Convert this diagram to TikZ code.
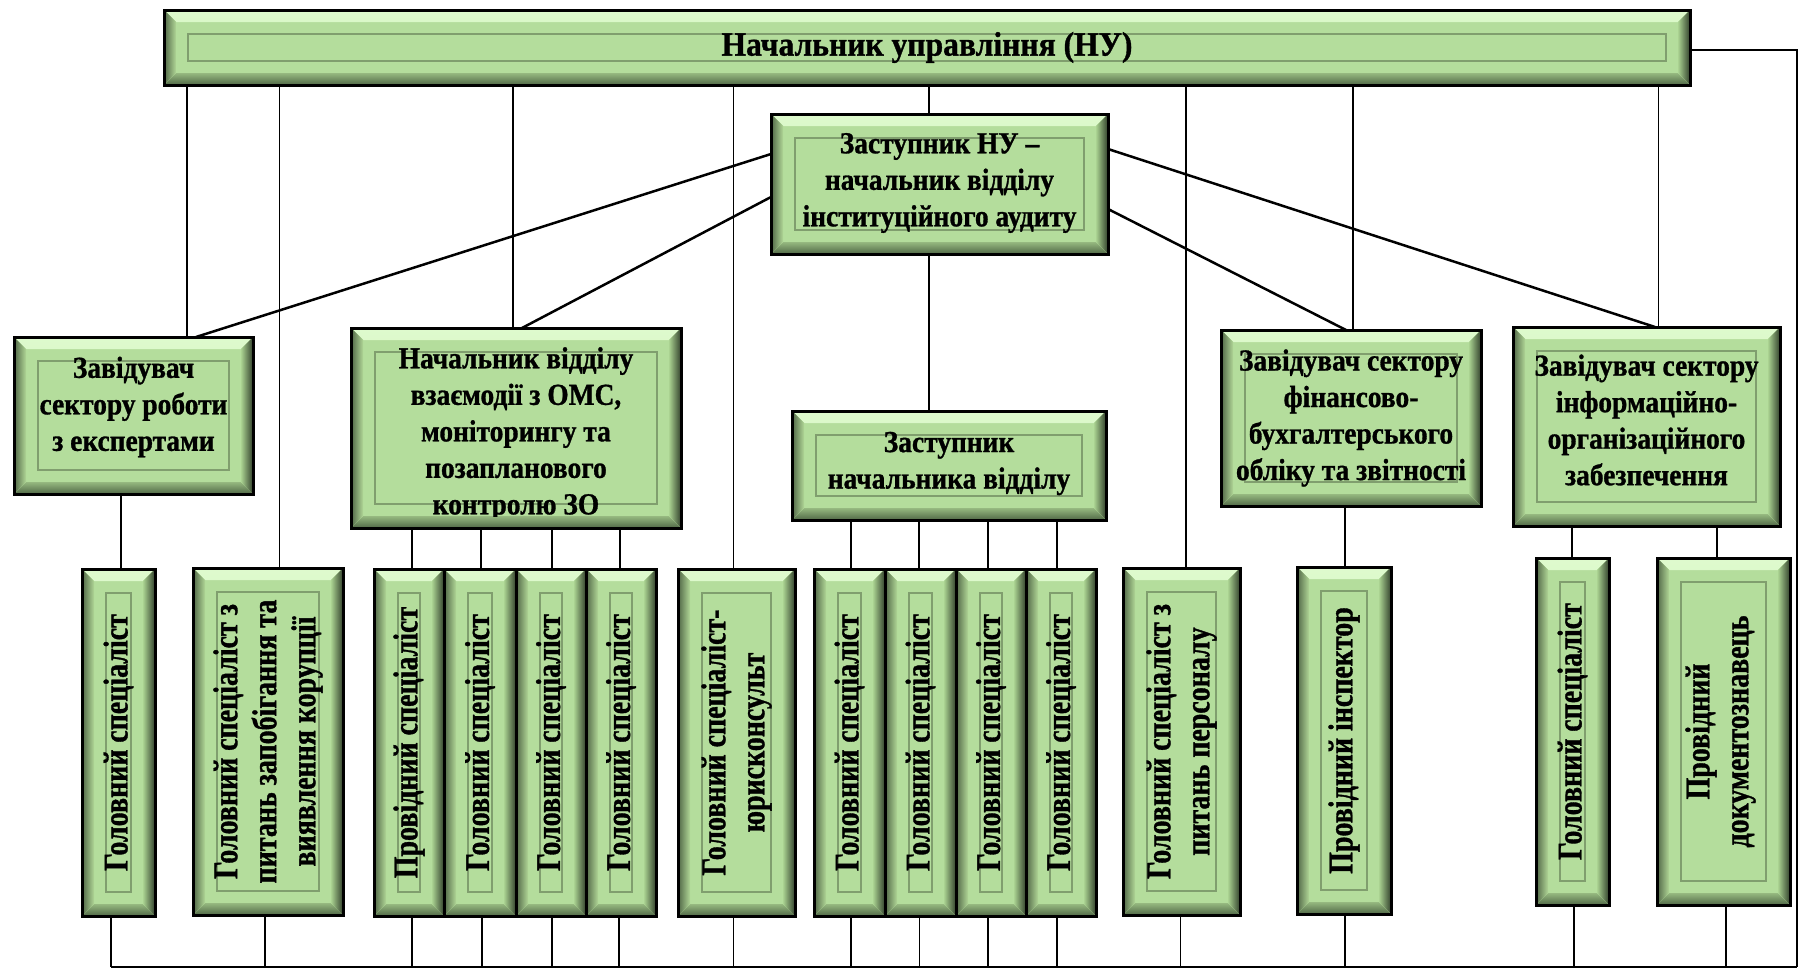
\documentclass[tikz,border=0pt]{standalone}
\usepackage{fontspec}
\setmainfont{Liberation Serif}
\newfontfamily\hfont[FakeStretch=0.9,FakeBold=1]{Liberation Serif}
\newfontfamily\tfont[FakeStretch=0.93,FakeBold=1]{Liberation Serif}
\newfontfamily\vfont[FakeStretch=0.81,FakeBold=1]{Liberation Serif}
\usetikzlibrary{calc}
\definecolor{gmain}{RGB}{180,221,156}
\definecolor{gTa}{RGB}{222,250,205}
\definecolor{gTb}{RGB}{196,234,172}
\definecolor{gBa}{RGB}{150,185,128}
\definecolor{gBb}{RGB}{80,104,70}
\definecolor{gLa}{RGB}{80,102,70}
\definecolor{gLb}{RGB}{176,214,150}
\definecolor{gRa}{RGB}{170,210,145}
\definecolor{gRb}{RGB}{50,64,44}
\definecolor{gIn}{RGB}{128,158,110}
\tikzset{
  bev/.style={rectangle, draw=black, line width=3pt, fill=gmain, inner sep=0pt, outer sep=0pt,
    path picture={
      \fill[top color=gTa, bottom color=gTb] (path picture bounding box.north west) -- (path picture bounding box.north east) -- ([shift={(-12pt,-12pt)}]path picture bounding box.north east) -- ([shift={(12pt,-12pt)}]path picture bounding box.north west) -- cycle;
      \fill[top color=gBa, bottom color=gBb] (path picture bounding box.south west) -- (path picture bounding box.south east) -- ([shift={(-12pt,12pt)}]path picture bounding box.south east) -- ([shift={(12pt,12pt)}]path picture bounding box.south west) -- cycle;
      \fill[left color=gLa, right color=gLb] (path picture bounding box.north west) -- ([shift={(12pt,-12pt)}]path picture bounding box.north west) -- ([shift={(12pt,12pt)}]path picture bounding box.south west) -- (path picture bounding box.south west) -- cycle;
      \fill[left color=gRa, right color=gRb] (path picture bounding box.north east) -- ([shift={(-12pt,-12pt)}]path picture bounding box.north east) -- ([shift={(-12pt,12pt)}]path picture bounding box.south east) -- (path picture bounding box.south east) -- cycle;
      \draw[gIn, line width=1.2pt] ([shift={(24pt,-24pt)}]path picture bounding box.north west) rectangle ([shift={(-24pt,24pt)}]path picture bounding box.south east);
    }},
  htxt/.style={font=\hfont\bfseries\fontsize{30.5}{36.5}\selectfont, align=center, inner sep=0pt},
  vtxt/.style={font=\vfont\bfseries\fontsize{34.5}{39}\selectfont, align=center, rotate=90, inner sep=0pt},
  ln/.style={line width=1.5pt},
  dl/.style={line width=2.5pt},
}
\newcommand\uplink[3]{\draw[ln] ([xshift=#2pt]#1.north) coordinate (tmpc) -- (tmpc |- #3);}
\newcommand\downlink[3]{\draw[ln] ([xshift=#2pt]#1.south) coordinate (tmpc) -- (tmpc |- #3);}
\begin{document}
\begin{tikzpicture}[x=1pt, y=-1pt]
\useasboundingbox (0,0) rectangle (1803,969);
\fill[white] (0,0) rectangle (1803,969);
% upper boxes
\node[bev, minimum width=1526pt, minimum height=75pt] (top) at (927,47.5) {};
\node[htxt, font=\tfont\bfseries\fontsize{34}{37}\selectfont] (topt) at (top.center) {Начальник управління (НУ)};
\node[bev, minimum width=337pt, minimum height=140pt] (zam) at (939.5,184) {};
\node[htxt] (zamt) at ([yshift=1pt]zam.center) {Заступник НУ –\\начальник відділу\\інституційного аудиту};
\node[bev, minimum width=239pt, minimum height=157pt] (sec1) at (133.5,415.5) {};
\node[htxt] (sec1t) at ([yshift=8.5pt]sec1.center) {Завідувач\\сектору роботи\\з експертами};
\node[bev, minimum width=330pt, minimum height=200pt] (vz) at (516,428) {};
\begin{scope}
\clip ([yshift=12pt]vz.south west) rectangle (vz.north east);
\node[htxt] (vzt) at ([yshift=-6pt]vz.center) {Начальник відділу\\взаємодії з ОМС,\\моніторингу та\\позапланового\\контролю ЗО};
\end{scope}
\node[bev, minimum width=314pt, minimum height=109pt] (zn) at (949,465.5) {};
\node[htxt] (znt) at ([yshift=2pt]zn.center) {Заступник\\начальника відділу};
\node[bev, minimum width=260pt, minimum height=176pt] (fin) at (1351,418) {};
\node[htxt] (fint) at (fin.center) {Завідувач сектору\\фінансово-\\бухгалтерського\\обліку та звітності};
\node[bev, minimum width=267pt, minimum height=199pt] (inf) at (1646.5,426.5) {};
\node[htxt] (inft) at ([yshift=6.5pt]inf.center) {Завідувач сектору\\інформаційно-\\організаційного\\забезпечення};
% bottom boxes
\node[bev, minimum width=73pt, minimum height=347pt] (b1) at (118.5,742.5) {};
\node[vtxt] (b1t) at (b1.center) {Головний спеціаліст};
\node[bev, minimum width=150pt, minimum height=347pt] (b2) at (268,741.5) {};
\node[vtxt] (b2t) at (b2.center) {Головний спеціаліст з\\питань запобігання та\\виявлення корупції};
\node[bev, minimum width=70pt, minimum height=347pt] (b3) at (409,742.5) {};
\node[vtxt] (b3t) at (b3.center) {Провідний спеціаліст};
\node[bev, minimum width=72pt, minimum height=347pt] (b4) at (480,742.5) {};
\node[vtxt] (b4t) at (b4.center) {Головний спеціаліст};
\node[bev, minimum width=70pt, minimum height=347pt] (b5) at (551,742.5) {};
\node[vtxt] (b5t) at (b5.center) {Головний спеціаліст};
\node[bev, minimum width=70pt, minimum height=347pt] (b6) at (621,742.5) {};
\node[vtxt] (b6t) at (b6.center) {Головний спеціаліст};
\node[bev, minimum width=117pt, minimum height=347pt] (b7) at (736.5,742.5) {};
\node[vtxt] (b7t) at (b7.center) {Головний спеціаліст-\\юрисконсульт};
\node[bev, minimum width=71pt, minimum height=347pt] (b8) at (849.5,742.5) {};
\node[vtxt] (b8t) at (b8.center) {Головний спеціаліст};
\node[bev, minimum width=71pt, minimum height=347pt] (b9) at (920.5,742.5) {};
\node[vtxt] (b9t) at (b9.center) {Головний спеціаліст};
\node[bev, minimum width=70pt, minimum height=347pt] (b10) at (991,742.5) {};
\node[vtxt] (b10t) at (b10.center) {Головний спеціаліст};
\node[bev, minimum width=70pt, minimum height=347pt] (b11) at (1061,742.5) {};
\node[vtxt] (b11t) at (b11.center) {Головний спеціаліст};
\node[bev, minimum width=117pt, minimum height=347pt] (b12) at (1181.5,741.5) {};
\node[vtxt] (b12t) at (b12.center) {Головний спеціаліст з\\питань персоналу};
\node[bev, minimum width=94pt, minimum height=347pt] (b13) at (1344,740.5) {};
\node[vtxt] (b13t) at (b13.center) {Провідний інспектор};
\node[bev, minimum width=73pt, minimum height=347pt] (b14) at (1572.5,731.5) {};
\node[vtxt] (b14t) at (b14.center) {Головний спеціаліст};
\node[bev, minimum width=133pt, minimum height=347pt] (b15) at (1723.5,731.5) {};
\node[vtxt] (b15t) at ([xshift=-3pt]b15.center) {Провідний\\документознавець};
% bus coordinates
\coordinate (busL) at (111,967);
\coordinate (busR) at (1797,967);
% links from the head
\uplink{sec1}{53.5}{top.south}
\uplink{b2}{11.5}{top.south}
\uplink{vz}{-3}{top.south}
\uplink{b7}{-3}{top.south}
\uplink{zam}{-10.5}{top.south}
\uplink{b12}{4.5}{top.south}
\uplink{fin}{2}{top.south}
\uplink{inf}{12}{top.south}
\uplink{zn}{-20}{zam.south}
% diagonals from deputy
\draw[dl] ([yshift=30pt]zam.west) -- ([xshift=62.5pt]sec1.north);
\draw[dl] ([yshift=-13pt]zam.west) -- ([xshift=6pt]vz.north);
\draw[dl] ([yshift=35pt]zam.east) -- ([xshift=8.5pt]inf.north);
\draw[dl] ([yshift=-25pt]zam.east) -- ([xshift=-5pt]fin.north);
% sectors to staff
\uplink{b1}{2.5}{sec1.south}
\uplink{b3}{3}{vz.south}
\uplink{b4}{1}{vz.south}
\uplink{b5}{1}{vz.south}
\uplink{b6}{-1}{vz.south}
\uplink{b8}{1.5}{zn.south}
\uplink{b9}{-1.5}{zn.south}
\uplink{b10}{-3}{zn.south}
\uplink{b11}{-4}{zn.south}
\uplink{b13}{1}{fin.south}
\uplink{b14}{-0.5}{inf.south}
\uplink{b15}{-6.5}{inf.south}
% staff to bottom bus
\downlink{b1}{-7.5}{busL}
\downlink{b2}{-3}{busL}
\downlink{b3}{3}{busL}
\downlink{b4}{2}{busL}
\downlink{b5}{1}{busL}
\downlink{b6}{-2}{busL}
\downlink{b7}{-3}{busL}
\downlink{b8}{1.5}{busL}
\downlink{b9}{-1}{busL}
\downlink{b10}{-3}{busL}
\downlink{b11}{-4}{busL}
\downlink{b12}{-1}{busL}
\downlink{b13}{1}{busL}
\downlink{b14}{1.5}{busL}
\downlink{b15}{2.5}{busL}
\draw[ln] (busL) -- (busR);
\draw[ln] ([yshift=-2.5pt]top.east) -| (busR);
\end{tikzpicture}
\end{document}
